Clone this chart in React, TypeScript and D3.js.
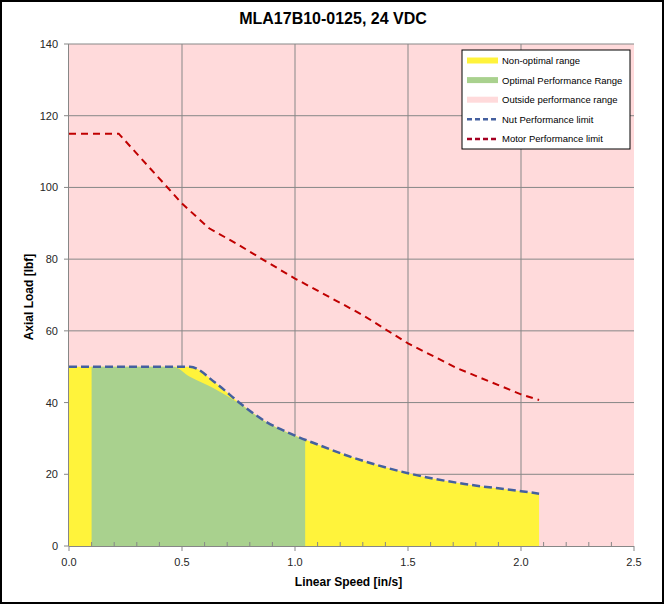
import React, { useEffect, useRef } from 'react';
import * as d3 from 'd3';

// Nut performance limit (blue dashed) and the yellow area under it
const nutSpeed = [0, 0.1, 0.2, 0.3, 0.4, 0.535, 0.65, 0.757, 0.86, 1.0, 1.1, 1.25, 1.5, 1.75, 2.0, 2.08];
const nutLoad = [50, 50, 50, 50, 50, 50, 45.4, 39.8, 35.1, 30.8, 28.3, 24.8, 20.3, 17.3, 15.3, 14.6];

// Optimal performance range (green)
const optSpeed = [0.1, 0.46, 0.535, 0.64, 0.757, 0.86, 1.0, 1.045];
const optLoad = [50, 50, 47.2, 44, 39.6, 35, 30.7, 29.6];

// Motor performance limit (red dashed)
const motorSpeed = [0, 0.22, 0.5, 0.62, 0.75, 0.86, 1.0, 1.3, 1.5, 1.72, 2.0, 2.08];
const motorLoad = [115, 115, 95.5, 88.6, 84, 79.8, 74.6, 64.4, 56.5, 49.5, 42.3, 40.7];

const xTicks = [0, 0.5, 1.0, 1.5, 2.0, 2.5];
const yTicks = [0, 20, 40, 60, 80, 100, 120, 140];

const legendLabels = [
  'Non-optimal range',
  'Optimal Performance Range',
  'Outside performance range',
  'Nut Performance limit',
  'Motor Performance limit',
];

const FONT = "'Liberation Sans', Arial, sans-serif";

const App: React.FC = () => {
  const svgRef = useRef<SVGSVGElement>(null);

  useEffect(() => {
    const svg = d3.select(svgRef.current);
    svg.selectAll('*').remove();

    const width = 665;
    const height = 605;
    const margin = { top: 44, right: 31, bottom: 59, left: 69 };
    const w = width - margin.left - margin.right;
    const h = height - margin.top - margin.bottom;

    svg.append('rect')
      .attr('width', width).attr('height', height).attr('fill', '#fff');
    svg.append('rect')
      .attr('x', 1).attr('y', 1).attr('width', width - 3).attr('height', height - 3)
      .attr('fill', 'none').attr('stroke', '#000').attr('stroke-width', 2);

    const x = d3.scaleLinear().domain([0, 2.5]).range([0, w]);
    const y = d3.scaleLinear().domain([0, 140]).range([h, 0]);

    const g = svg.append('g').attr('transform', `translate(${margin.left},${margin.top})`);

    // outside range background
    g.append('rect')
      .attr('x', x(0)).attr('y', y(140)).attr('width', x(2.5) - x(0)).attr('height', y(0) - y(140))
      .attr('fill', '#FFDADB');

    const nutData = nutSpeed.map((s, i) => ({ s, v: nutLoad[i] }));
    const optData = optSpeed.map((s, i) => ({ s, v: optLoad[i] }));
    const motorData = motorSpeed.map((s, i) => ({ s, v: motorLoad[i] }));

    const area = d3.area<{ s: number; v: number }>()
      .x(d => x(d.s)).y0(y(0)).y1(d => y(d.v))
      .curve(d3.curveMonotoneX);

    // gridlines
    g.append('g').selectAll('line.h')
      .data(yTicks.filter(t => t > 0))
      .enter().append('line')
      .attr('x1', 0).attr('x2', w)
      .attr('y1', d => y(d)).attr('y2', d => y(d))
      .attr('stroke', '#878787').attr('stroke-width', 1);
    g.append('g').selectAll('line.v')
      .data(xTicks.filter(t => t > 0 && t < 2.5))
      .enter().append('line')
      .attr('x1', d => x(d)).attr('x2', d => x(d))
      .attr('y1', 0).attr('y2', h)
      .attr('stroke', '#878787').attr('stroke-width', 1);

    g.append('path').datum(nutData).attr('d', area).attr('fill', '#FFF33B');
    g.append('path').datum(optData).attr('d', area).attr('fill', '#A9D18E');

    // axes
    g.append('line').attr('x1', 0).attr('x2', w).attr('y1', h + 0.5).attr('y2', h + 0.5)
      .attr('stroke', '#878787');
    g.append('line').attr('x1', -0.5).attr('x2', -0.5).attr('y1', 0).attr('y2', h)
      .attr('stroke', '#878787');

    const minor = d3.range(0, 26).map(i => i / 10).filter(v => Math.round(v * 10) % 5 !== 0);
    g.append('g').selectAll('line')
      .data(minor).enter().append('line')
      .attr('x1', d => x(d)).attr('x2', d => x(d))
      .attr('y1', h - 4).attr('y2', h)
      .attr('stroke', '#878787');
    g.append('g').selectAll('line')
      .data(xTicks).enter().append('line')
      .attr('x1', d => x(d)).attr('x2', d => x(d))
      .attr('y1', h).attr('y2', h + 5)
      .attr('stroke', '#878787');
    g.append('g').selectAll('line')
      .data(yTicks).enter().append('line')
      .attr('x1', -5).attr('x2', 0)
      .attr('y1', d => y(d)).attr('y2', d => y(d))
      .attr('stroke', '#878787');

    g.append('g').selectAll('text')
      .data(xTicks).enter().append('text')
      .attr('x', d => x(d)).attr('y', h + 20)
      .attr('text-anchor', 'middle')
      .style('font-family', FONT).style('font-size', '11px').attr('fill', '#262626')
      .text(d => d.toFixed(1));
    g.append('g').selectAll('text')
      .data(yTicks).enter().append('text')
      .attr('x', -11).attr('y', d => y(d) + 4)
      .attr('text-anchor', 'end')
      .style('font-family', FONT).style('font-size', '11px').attr('fill', '#262626')
      .text(d => String(d));

    // limit lines
    const line = d3.line<{ s: number; v: number }>().x(d => x(d.s)).y(d => y(d.v));
    g.append('path').datum(nutData)
      .attr('d', line.curve(d3.curveMonotoneX))
      .attr('fill', 'none').attr('stroke', '#44609F').attr('stroke-width', 2.5)
      .attr('stroke-dasharray', '8,4');
    g.append('path').datum(motorData)
      .attr('d', line.curve(d3.curveLinear))
      .attr('fill', 'none').attr('stroke', '#C00000').attr('stroke-width', 2)
      .attr('stroke-dasharray', '7,5');

    // titles
    svg.append('text')
      .attr('x', 333).attr('y', 24).attr('text-anchor', 'middle')
      .style('font-family', FONT).style('font-size', '16px').style('font-weight', 'bold')
      .attr('fill', '#000')
      .text('MLA17B10-0125, 24 VDC');
    svg.append('text')
      .attr('x', margin.left + w / 2 - 3).attr('y', 586).attr('text-anchor', 'middle')
      .style('font-family', FONT).style('font-size', '12px').style('font-weight', 'bold')
      .text('Linear Speed [in/s]');
    svg.append('text')
      .attr('transform', `translate(33,${margin.top + h / 2 + 2}) rotate(-90)`)
      .attr('text-anchor', 'middle')
      .style('font-family', FONT).style('font-size', '12px').style('font-weight', 'bold')
      .text('Axial Load [lbf]');

    // legend
    const lg = svg.append('g').attr('transform', 'translate(462,50)');
    lg.append('rect').attr('width', 168).attr('height', 99)
      .attr('fill', '#fff').attr('stroke', '#000').attr('stroke-width', 1);
    const swatch = [
      { color: '#FFF33B', dash: null, width: 6 },
      { color: '#A9D18E', dash: null, width: 6 },
      { color: '#FFDADB', dash: null, width: 6 },
      { color: '#44609F', dash: '5,3', width: 2.5 },
      { color: '#A50021', dash: '5,3', width: 2.5 },
    ];
    legendLabels.forEach((label, i) => {
      const ly = 10.5 + i * 19.6;
      const l = lg.append('line')
        .attr('x1', 5).attr('x2', 36).attr('y1', ly).attr('y2', ly)
        .attr('stroke', swatch[i].color).attr('stroke-width', swatch[i].width);
      if (swatch[i].dash) l.attr('stroke-dasharray', swatch[i].dash);
      lg.append('text')
        .attr('x', 40).attr('y', ly + 3.5)
        .style('font-family', FONT).style('font-size', '9.5px').attr('fill', '#000')
        .text(label);
    });
  }, []);

  return (
    <svg ref={svgRef} width={665} height={605}
      style={{ position: 'absolute', left: 0, top: 0, display: 'block' }} />
  );
};

export default App;
